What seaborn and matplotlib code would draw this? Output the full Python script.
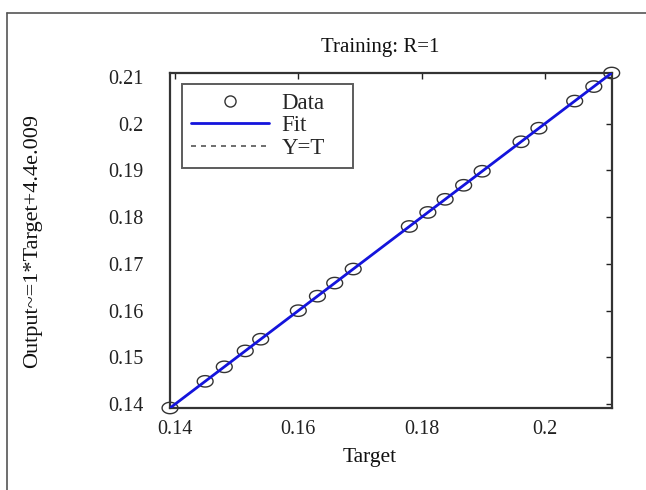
import matplotlib
matplotlib.use("Agg")
import matplotlib.pyplot as plt
from matplotlib.lines import Line2D
from matplotlib.path import Path
from matplotlib.ticker import FuncFormatter, FixedLocator
import seaborn as sns
import numpy as np
import pandas as pd

# ---- data ----
targets = [0.1392, 0.1449, 0.1480, 0.1514, 0.1539, 0.1600, 0.1631, 0.1659, 0.1689,
           0.1780, 0.1810, 0.1838, 0.1868, 0.1898, 0.1961, 0.1990, 0.2048, 0.2079, 0.2108]
outputs = [0.1392, 0.1449, 0.1480, 0.1514, 0.1539, 0.1600, 0.1631, 0.1659, 0.1689,
           0.1780, 0.1810, 0.1838, 0.1868, 0.1898, 0.1961, 0.1990, 0.2048, 0.2079, 0.2108]
x_ticks = [0.14, 0.16, 0.18, 0.2]
y_ticks = [0.14, 0.15, 0.16, 0.17, 0.18, 0.19, 0.2, 0.21]
title_text = "Training: R=1"
x_label = "Target"
y_label = "Output~=1*Target+4.4e.009"
legend_labels = ["Data", "Fit", "Y=T"]

sns.set_style("white")
plt.rcParams["font.family"] = ["Liberation Serif", "DejaVu Serif"]

df = pd.DataFrame({"Target": targets, "Output": outputs})
slope, intercept = np.polyfit(df["Target"], df["Output"], 1)
lim = (min(targets), max(targets))
line_df = pd.DataFrame({"Target": list(lim)})
line_df["Fit"] = slope * line_df["Target"] + intercept
line_df["YT"] = line_df["Target"]

# slightly wide open-circle marker (as in the stretched original)
theta = np.linspace(0, 2 * np.pi, 61)
ellipse = Path(np.column_stack([np.cos(theta), 0.72 * np.sin(theta)]), closed=True)

fig = plt.figure(figsize=(6.46, 4.90), dpi=100)
ax = fig.add_axes([170 / 646, 1 - 408 / 490, (611.7 - 170) / 646, (408 - 73) / 490])

sns.scatterplot(data=df, x="Target", y="Output", ax=ax, marker=ellipse, s=130,
                facecolor="none", edgecolor="#333333", linewidth=1.0, zorder=2,
                legend=False, clip_on=False)
sns.lineplot(data=line_df, x="Target", y="YT", ax=ax, color="black",
             linestyle=":", linewidth=1.0, zorder=3, legend=False)
sns.lineplot(data=line_df, x="Target", y="Fit", ax=ax, color="#1414dc",
             linewidth=2.0, zorder=4, legend=False)

ax.set_xlim(*lim)
ax.set_ylim(*lim)
ax.xaxis.set_major_locator(FixedLocator(x_ticks))
ax.yaxis.set_major_locator(FixedLocator(y_ticks))
fmt = FuncFormatter(lambda v, p: "%g" % round(v, 4))
ax.xaxis.set_major_formatter(fmt)
ax.yaxis.set_major_formatter(fmt)
ax.tick_params(direction="in", length=4, width=1.0, top=True, right=True,
               labelsize=14.5, colors="#222222")
ax.tick_params(axis="x", pad=8.5)
ax.tick_params(axis="y", pad=19)
for s in ax.spines.values():
    s.set_visible(True)
    s.set_color("#333333")
    s.set_linewidth(1.6)

ax.set_title(title_text, fontsize=15, x=(380 - 170) / 441.7, y=(408 - 52) / 335,
             pad=0, color="#111111")
ax.set_xlabel(x_label, fontsize=15.5, color="#111111")
ax.xaxis.set_label_coords((370 - 170) / 441.7, (408 - 448) / 335)
ax.set_ylabel(y_label, fontsize=16, color="#111111")
ax.yaxis.set_label_coords((42 - 170) / 441.7, 0.5)

handles = [
    Line2D([], [], marker="o", linestyle="none", markerfacecolor="none",
           markeredgecolor="#333333", markersize=8, markeredgewidth=1.0),
    Line2D([], [], color="#1414dc", linewidth=2.0),
    Line2D([], [], color="#555555", linestyle=(0, (3, 3)), linewidth=1.2),
]
leg_h = 86 / 335
leg = ax.legend(handles, legend_labels, loc="upper left",
                bbox_to_anchor=(12 / 441.7, 1 - 11 / 335 - leg_h, 171 / 441.7, leg_h),
                mode="expand", fontsize=16.5,
                frameon=True, fancybox=False, handlelength=3.4,
                handletextpad=0.55, borderpad=0.4, labelspacing=0.05,
                borderaxespad=0)
leg.get_frame().set_edgecolor("#333333")
leg.get_frame().set_linewidth(1.4)

# outer frame lines (left and top) of the original figure
fig.add_artist(Line2D([7 / 646, 7 / 646], [0, 1 - 13 / 490], transform=fig.transFigure,
                      color="#555555", linewidth=1.2))
fig.add_artist(Line2D([7 / 646, 1], [1 - 13 / 490, 1 - 13 / 490], transform=fig.transFigure,
                      color="#555555", linewidth=1.2))

fig.savefig("out.png", dpi=100, facecolor="white")
